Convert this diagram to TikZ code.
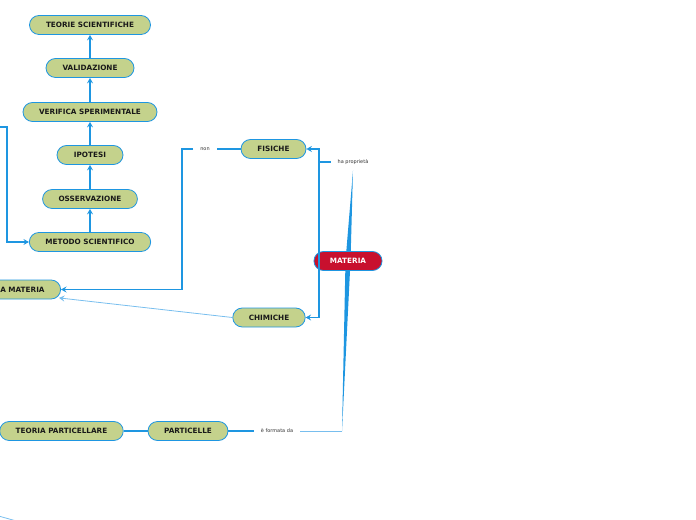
\documentclass[tikz,border=0pt]{standalone}
\usepackage{fontspec}
\setmainfont{DejaVu Sans}
\usetikzlibrary{arrows.meta}
\definecolor{mapblue}{RGB}{30,150,225}
\definecolor{lightblue}{RGB}{120,190,238}
\definecolor{topicgreen}{RGB}{196,210,140}
\definecolor{rootred}{RGB}{200,16,46}
\tikzset{
  topic/.style={draw=mapblue, line width=0.8pt, fill=topicgreen, rounded corners=9.5bp,
    minimum height=19bp, inner xsep=16bp, inner ysep=0pt,
    font=\fontsize{7.3}{8}\selectfont\bfseries, text=black!90},
  root/.style={topic, fill=rootred, text=white},
  linklabel/.style={fill=white, inner xsep=7bp, inner ysep=3bp,
    font=\fontsize{5}{6}\selectfont, text=black!80},
  link/.style={draw=mapblue, line width=1.2pt},
  arr/.style={link, -{Stealth[length=5.5bp,width=6bp,inset=2bp]}},
  thinarr/.style={draw=lightblue, line width=0.8pt, -{Stealth[length=5.5bp,width=6bp,inset=2bp]}},
}
\begin{document}
\begin{tikzpicture}[x=1bp, y=-1bp]
    \useasboundingbox (0,0) rectangle (696,520);
    \clip (0,0) rectangle (696,520);

    % Scientific method chain
    \node[topic, minimum width=121bp] (teorie) at (90,25) {TEORIE SCIENTIFICHE};
    \node[topic, minimum width=88bp] (valid) at (90,68) {VALIDAZIONE};
    \node[topic, minimum width=134bp] (verifica) at (90,112) {VERIFICA SPERIMENTALE};
    \node[topic, minimum width=66bp] (ipotesi) at (90,155) {IPOTESI};
    \node[topic, minimum width=94bp] (osserv) at (90,199) {OSSERVAZIONE};
    \node[topic, minimum width=120bp] (metodo) at (90,242) {METODO SCIENTIFICO};
    \node[topic, anchor=east] (studio) at (61,289.5) {A MATERIA};

    % Chain arrows
    \draw[arr] (metodo) -- (osserv);
    \draw[arr] (osserv) -- (ipotesi);
    \draw[arr] (ipotesi) -- (verifica);
    \draw[arr] (verifica) -- (valid);
    \draw[arr] (valid) -- (teorie);

    % Incoming link from the left
    \coordinate (offleft) at (-10,127);
    \coordinate (bendleft) at (7,127);
    \draw[arr] (offleft) -- (bendleft) |- (metodo.west);

    % Root and properties
    \node[linklabel] (haprop) at (353,162) {ha proprietà};
    \node[linklabel] (formata) at (277,431) {è formata da};
    \coordinate (formjoin) at (342,431);
    \fill[mapblue] ([yshift=-3bp]haprop.south) -- ([xshift=-2.5bp]348,261) -- ([xshift=2.5bp]348,261) -- cycle;
    \fill[mapblue] ([xshift=-2.5bp]348,261) -- ([xshift=2.5bp]348,261) -- (formjoin) -- cycle;
    \draw[lightblue, line width=0.8pt] (formjoin) -- (formata.east);
    \node[root, minimum width=68bp] (materia) at (348,261) {MATERIA};

    \node[topic, minimum width=65bp] (fisiche) at (273.5,149) {FISICHE};
    \node[topic, minimum width=72bp] (chimiche) at (269,317.5) {CHIMICHE};
    \node[linklabel] (non) at (205,149) {non};

    \coordinate (propjoin) at (319,162);
    \draw[link] (haprop.west) -- (propjoin);
    \draw[arr] (propjoin) |- (fisiche.east);
    \draw[arr] (propjoin) |- (chimiche.east);

    % Links back to the matter node
    \coordinate (nonbend) at (182,149);
    \draw[link] (fisiche.west) -- (non.east);
    \draw[arr] (non.west) -- (nonbend) |- (studio.east);
    \draw[thinarr] (chimiche.west) -- ([shift={(-2,-1.5)}]studio.south east);

    % Particles
    \node[topic, minimum width=80bp] (particelle) at (188,431) {PARTICELLE};
    \node[topic, minimum width=123bp] (teopart) at (61.5,431) {TEORIA PARTICELLARE};
    \draw[link, line width=2pt] (formata.west) -- (particelle.east);
    \draw[link, line width=2pt] (particelle.west) -- (teopart.east);

    % Stray link at the bottom edge
    \coordinate (offbl) at (-5,515);
    \coordinate (offbr) at (20,522);
    \draw[lightblue, line width=0.8pt] (offbl) -- (offbr);
\end{tikzpicture}
\end{document}
